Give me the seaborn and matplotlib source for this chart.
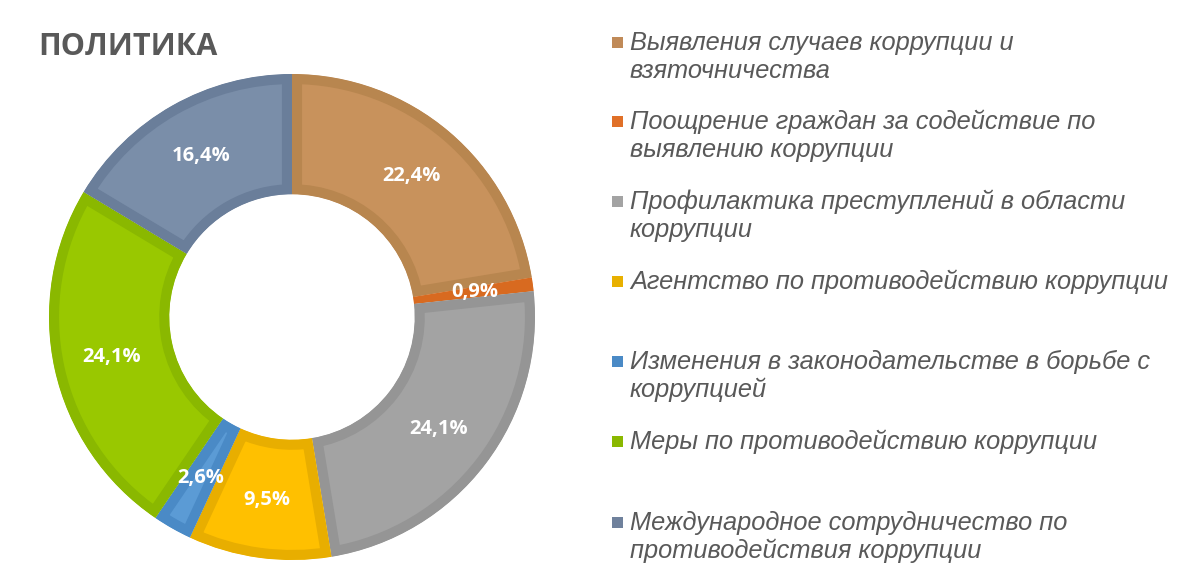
import matplotlib
matplotlib.use("Agg")
import matplotlib.pyplot as plt
import seaborn as sns
import numpy as np
from matplotlib.patches import Rectangle

sns.set_theme(style="white")
plt.rcParams['font.family'] = ['Liberation Sans', 'DejaVu Sans']

title = "ПОЛИТИКА"
categories = [
    "Выявления случаев коррупции и\nвзяточничества",
    "Поощрение граждан за содействие по\nвыявлению коррупции",
    "Профилактика преступлений в области\nкоррупции",
    "Агентство по противодействию коррупции",
    "Изменения в законодательстве в борьбе с\nкоррупцией",
    "Меры по противодействию коррупции",
    "Международное сотрудничество по\nпротиводействия коррупции",
]
values = [22.4, 0.9, 24.1, 9.5, 2.6, 24.1, 16.4]
value_labels = ["22,4%", "0,9%", "24,1%", "9,5%", "2,6%", "24,1%", "16,4%"]

fill_colors = sns.color_palette(["#C8925C", "#E07028", "#A3A3A3", "#FFC000",
                                 "#5B9BD5", "#99C800", "#7A8EA9"])
edge_colors = ["#B8864F", "#D86A20", "#959595", "#E8AE00",
               "#4A8AC6", "#8AB800", "#6A7E9A"]
legend_colors = ["#C08A58", "#E07028", "#A3A3A3", "#E8B000",
                 "#4A8AC6", "#8AB800", "#6F819C"]

W, H = 1187, 588
fig = plt.figure(figsize=(W / 100, H / 100), dpi=100)
fig.patch.set_facecolor("white")

cx, cy, R = 292, 317, 243
ax = fig.add_axes([(cx - R) / W, (H - cy - R) / H, 2 * R / W, 2 * R / H])
wedges, _ = ax.pie(values, startangle=90, counterclock=False, radius=1.0,
                   colors=fill_colors,
                   wedgeprops=dict(width=0.495, linewidth=14.5))
ax.set_xlim(-1, 1)
ax.set_ylim(-1, 1)
ax.set_aspect("equal")
ax.axis("off")
for w, ec in zip(wedges, edge_colors):
    w.set_edgecolor(ec)
    w.set_clip_on(True)
    w.set_clip_path(w.get_path(), w.get_transform())

cum = np.cumsum([0] + values)
for i, lab in enumerate(value_labels):
    mid = 90 - (cum[i] + values[i] / 2) * 3.6
    r = 0.76
    ax.text(r * np.cos(np.radians(mid)), r * np.sin(np.radians(mid)), lab,
            ha="center", va="center", color="white", fontsize=14.5,
            fontweight="bold", family=["Open Sans", "DejaVu Sans"])

fig.text(38 / W, 1 - 47 / H, title, ha="left", va="center", fontsize=22,
         fontweight="bold", color="#595959", family=["Open Sans", "DejaVu Sans"])

first_centers = [42, 121, 201, 281, 361, 441, 522]
for lab, yc, col in zip(categories, first_centers, legend_colors):
    fig.patches.append(Rectangle((612 / W, 1 - (yc + 6) / H), 11 / W, 11 / H,
                                 transform=fig.transFigure, facecolor=col,
                                 edgecolor="none"))
    for j, line in enumerate(lab.split("\n")):
        yb = yc + 8 + j * 28
        fig.text(630 / W, 1 - yb / H, line, ha="left", va="baseline",
                 fontsize=18.3, style="italic", color="#595959")

fig.savefig("out.png", dpi=100, facecolor="white")
